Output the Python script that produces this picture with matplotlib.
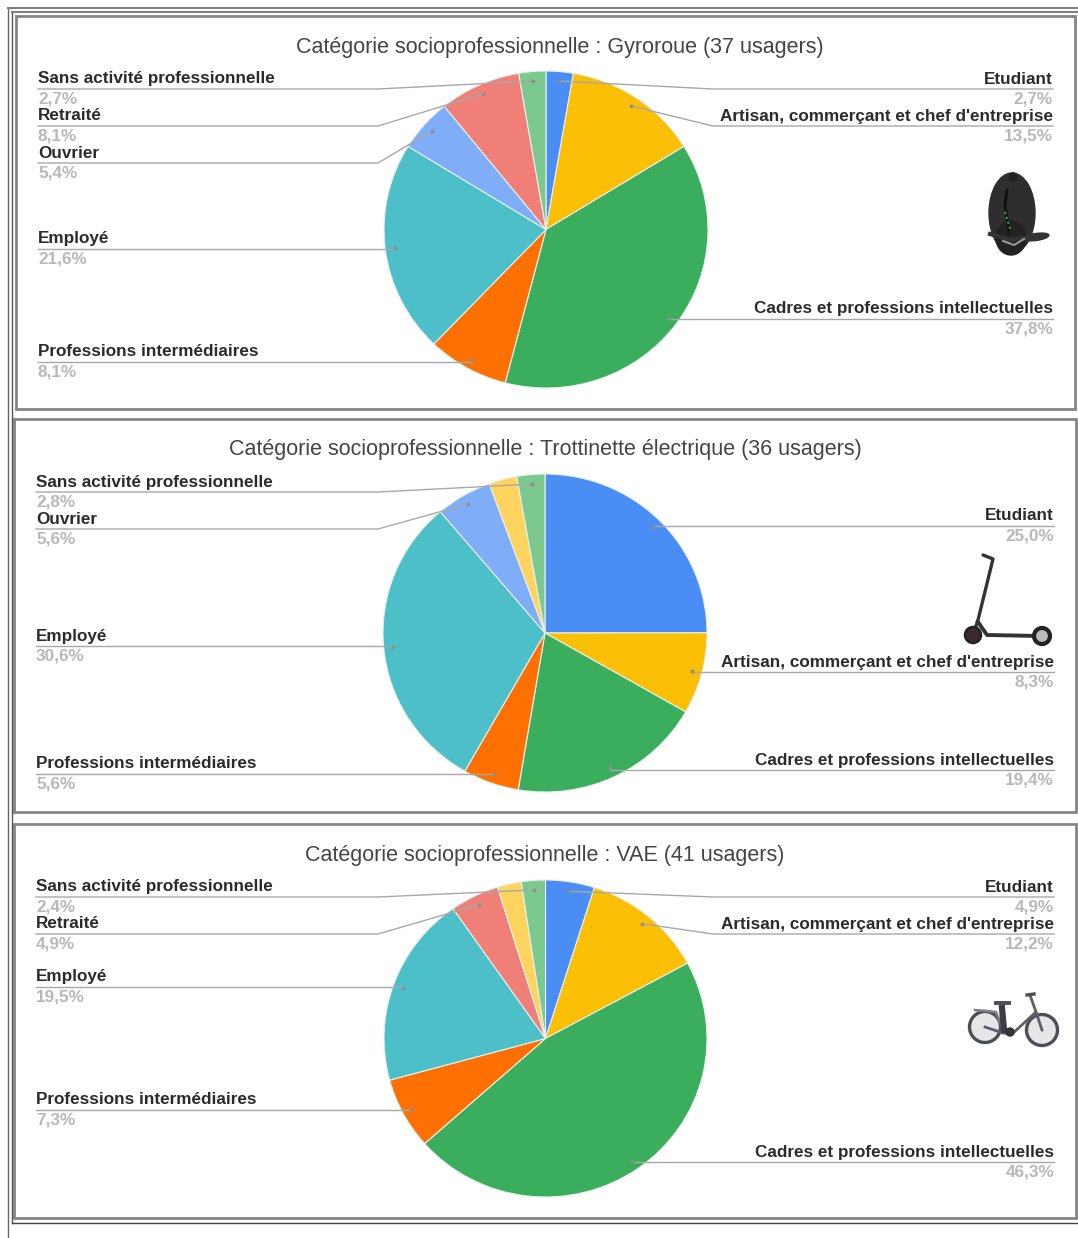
import numpy as np
import matplotlib
matplotlib.use('Agg')
import matplotlib.pyplot as plt
from matplotlib.patches import Circle, Ellipse, Rectangle

plt.rcParams['font.family'] = ['Liberation Sans', 'DejaVu Sans']

W, H = 1078, 1238

## data, clockwise from the top
titles = ['Catégorie socioprofessionnelle : Gyroroue (37 usagers)',
          'Catégorie socioprofessionnelle : Trottinette électrique (36 usagers)',
          'Catégorie socioprofessionnelle : VAE (41 usagers)']

cats_gyro = ['Etudiant', "Artisan, commerçant et chef d'entreprise",
             'Cadres et professions intellectuelles', 'Professions intermédiaires',
             'Employé', 'Ouvrier', 'Retraité', 'Sans activité professionnelle']
vals_gyro = [2.7, 13.5, 37.8, 8.1, 21.6, 5.4, 8.1, 2.7]

cats_trot = ['Etudiant', "Artisan, commerçant et chef d'entreprise",
             'Cadres et professions intellectuelles', 'Professions intermédiaires',
             'Employé', 'Ouvrier', 'Autre', 'Sans activité professionnelle']
vals_trot = [25.0, 8.3, 19.4, 5.6, 30.6, 5.6, 2.8, 2.8]

cats_vae = ['Etudiant', "Artisan, commerçant et chef d'entreprise",
            'Cadres et professions intellectuelles', 'Professions intermédiaires',
            'Employé', 'Retraité', 'Autre', 'Sans activité professionnelle']
vals_vae = [4.9, 12.2, 46.3, 7.3, 19.5, 4.9, 2.4, 2.4]

colors = {'Etudiant': '#4a8ef5', "Artisan, commerçant et chef d'entreprise": '#fbbf05',
          'Cadres et professions intellectuelles': '#3aae5c',
          'Professions intermédiaires': '#ff7002', 'Employé': '#4dbfc9',
          'Ouvrier': '#7fadf7', 'Retraité': '#f07f78', 'Autre': '#fed45e',
          'Sans activité professionnelle': '#7bc98f'}

## layout in pixels
# pie box (left, right, top, bottom), title pos, text x left/right
panels = [
    dict(box=(384, 708, 71, 388), title=(560, 47.5), lx=38, rx=1053,
         lines={'Etudiant': 89, "Artisan, commerçant et chef d'entreprise": 126,
                'Cadres et professions intellectuelles': 319,
                'Professions intermédiaires': 362, 'Employé': 249, 'Ouvrier': 163,
                'Retraité': 126, 'Sans activité professionnelle': 89}),
    dict(box=(383, 707, 474, 792), title=(545, 450), lx=36, rx=1054,
         lines={'Etudiant': 526, "Artisan, commerçant et chef d'entreprise": 672,
                'Cadres et professions intellectuelles': 770,
                'Professions intermédiaires': 774, 'Employé': 646, 'Ouvrier': 529,
                'Sans activité professionnelle': 492}),
    dict(box=(384, 707, 880, 1197), title=(545, 855), lx=36, rx=1054,
         lines={'Etudiant': 897, "Artisan, commerçant et chef d'entreprise": 934,
                'Cadres et professions intellectuelles': 1162,
                'Professions intermédiaires': 1110, 'Employé': 987, 'Retraité': 934,
                'Sans activité professionnelle': 897}),
]
frames = [(16, 16, 1075, 409), (14, 419, 1075.5, 812), (14, 824, 1075.5, 1218)]
border_col = '#858585'
LINE_COL = '#a8a8a8'
TITLE_SIZE = 15.5
LABEL_SIZE = 12.35

fig = plt.figure(figsize=(W / 100, H / 100), dpi=100)
bg = fig.add_axes([0, 0, 1, 1])
bg.set_xlim(0, W)
bg.set_ylim(H, 0)
bg.axis('off')

# everything over the pies goes here
top = fig.add_axes([0, 0, 1, 1], zorder=10)
top.set_xlim(0, W)
top.set_ylim(H, 0)
top.axis('off')
top.patch.set_alpha(0)

# outer rules
bg.plot([7.5, 7.5], [8, 1238], color='#666666', lw=1)
bg.plot([11.5, 11.5], [12, 1223], color='#555555', lw=1)
bg.plot([7.5, W], [8, 8], color='#808080', lw=1.5)
bg.plot([11.5, W], [12, 12], color='#808080', lw=1.5)
bg.plot([11.5, W], [1223, 1223], color='#444444', lw=1)
for x0, y0, x1, y1 in frames:
    bg.add_patch(Rectangle((x0, y0), x1 - x0, y1 - y0, fill=False, ec=border_col, lw=2))


def draw_panel(p, title, cats, vals):
    l, r, t, b = p['box']
    ax = fig.add_axes([l / W, 1 - b / H, (r - l) / W, (b - t) / H])
    ax.pie(vals, colors=[colors[c] for c in cats], startangle=90, counterclock=False,
           radius=1, wedgeprops=dict(ec='#e8f0ee', lw=0.8))
    ax.set_aspect('auto')
    ax.set_xlim(-1, 1)
    ax.set_ylim(-1, 1)

    top.text(p['title'][0], p['title'][1], title, ha='center', va='center',
             fontsize=TITLE_SIZE, color='#444444')

    cx, cy = (l + r) / 2, (t + b) / 2
    cum = np.cumsum(vals) - np.array(vals) / 2
    total = sum(vals)
    for cat, val, c in zip(cats, vals, cum):
        if cat not in p['lines']:
            continue
        a = 2 * np.pi * c / total
        ax_x = cx + 0.94 * (r - l) / 2 * np.sin(a)
        ax_y = cy - 0.94 * (b - t) / 2 * np.cos(a)
        y = p['lines'][cat]
        left = ax_x < cx
        tx = p['lx'] if left else p['rx']
        knee = 378 if left else 713
        if abs(ax_y - y) < 5:
            knee = ax_x
        top.plot([tx, knee, ax_x], [y, y, ax_y], color=LINE_COL, lw=1)
        top.plot([ax_x], [ax_y], 's', color='#8c8c8c', ms=1.8)
        ha = 'left' if left else 'right'
        top.text(tx, y - 10, cat, ha=ha, va='center', fontsize=LABEL_SIZE,
                 fontweight='bold', color='#2b2b2b')
        top.text(tx, y + 10, ('%.1f%%' % val).replace('.', ','), ha=ha, va='center',
                 fontsize=LABEL_SIZE, fontweight='bold', color='#b8b8b8')


draw_panel(panels[0], titles[0], cats_gyro, vals_gyro)
draw_panel(panels[1], titles[1], cats_trot, vals_trot)
draw_panel(panels[2], titles[2], cats_vae, vals_vae)

## little vehicle pictures
# gyroroue
bg.add_patch(Ellipse((1012, 213), 46, 80, color='#2e2e2e', zorder=3))
bg.add_patch(Ellipse((1011, 238), 30, 34, color='#222222', zorder=3))
bg.add_patch(Circle((1013, 177), 4, color='#222222', zorder=3))
bg.plot([1007, 1005, 1009], [190, 205, 232], color='#111111', lw=2, zorder=4)
bg.plot([1005, 1011], [212, 232], color='#35b05a', lw=1.4, ls=':', zorder=5)
bg.plot([990, 1010, 1022], [234, 240, 238], color='#333333', lw=3, zorder=4)
bg.add_patch(Ellipse((1036, 237), 26, 7, angle=-8, color='#333333', zorder=4))
bg.plot([1003, 1014, 1024], [241, 245, 239], color='#999999', lw=1.5, zorder=5)

# trottinette
bg.plot([983, 993, 978, 973], [555, 559, 620, 635], color='#333333', lw=2.4, solid_capstyle='round', zorder=3)
bg.plot([978, 987, 1040], [622, 635, 636], color='#333333', lw=2.8, zorder=3)
bg.add_patch(Circle((973, 635), 8, fc='#3a2a2a', ec='#222222', lw=1.8, zorder=4))
bg.add_patch(Circle((1042, 636), 8, fc='#bbbbbb', ec='#222222', lw=3, zorder=4))

# velo
for xc, yc in ((985, 1027), (1042, 1030)):
    bg.add_patch(Circle((xc, yc), 15.5, fc='#e6e6e6', ec='#4a4f57', lw=2.4, zorder=3))
bg.plot([985, 1003, 1012, 1036, 1030], [1027, 1033, 1034, 1012, 995],
        color='#5a5f68', lw=2, zorder=4)
bg.plot([1036, 1042], [1012, 1030], color='#5a5f68', lw=2, zorder=4)
bg.plot([975, 996, 1003], [1010, 1012, 1030], color='#7a7f88', lw=1.8, zorder=4)
bg.plot([996, 1009], [1003, 1003], color='#4a4f57', lw=2.8, zorder=4)
bg.plot([1027, 1034], [995, 994], color='#4a4f57', lw=2.4, zorder=4)
bg.plot([1002, 1004], [1008, 1030], color='#3a3d44', lw=4.5, zorder=4)
bg.add_patch(Circle((1010, 1032), 4, color='#333333', zorder=4))

fig.savefig('out.png', dpi=100)
